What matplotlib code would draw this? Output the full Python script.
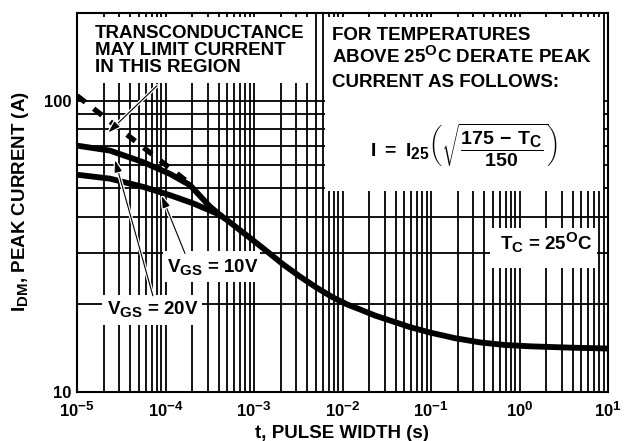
import matplotlib
matplotlib.use("Agg")
import matplotlib.pyplot as plt
import matplotlib.patheffects as pe
import matplotlib._mathtext as _mt
import numpy as np
from matplotlib.patches import Rectangle
from matplotlib.ticker import FixedLocator, FuncFormatter, LogLocator, NullFormatter

plt.rcParams.update({
    "font.family": "Liberation Sans",
    "font.weight": "bold",
    "mathtext.fontset": "custom",
    "mathtext.rm": "Liberation Sans:bold",
    "mathtext.it": "Liberation Sans:bold",
    "mathtext.bf": "Liberation Sans:bold",
    "mathtext.sf": "Liberation Sans:bold",
    "mathtext.default": "rm",
})
# datasheet sub/superscripts are drawn larger than mathtext's default 0.7
if hasattr(_mt, "SHRINK_FACTOR"):
    _mt.SHRINK_FACTOR = 0.8

# ---------------------------------------------------------------------------
# Values
# ---------------------------------------------------------------------------
T_20V = [1e-5, 2.36e-5, 5.6e-5, 1.12e-4, 1.89e-4, 3.18e-4, 4.36e-4]
I_20V = [70.1, 67.4, 61.5, 56.1, 51.3, 43.3, 40.0]

T_10V = [1e-5, 2.36e-5, 5.6e-5, 1.12e-4, 2.06e-4, 3.8e-4, 4.36e-4]
I_10V = [55.7, 54.0, 50.6, 47.4, 44.4, 41.0, 40.0]

T_MAIN = [4.36e-4, 4.91e-4, 9.01e-4, 1.44e-3, 2.14e-3, 3.31e-3, 5.11e-3, 7.61e-3,
          1.12e-2, 1.58e-2, 2.33e-2, 3.44e-2, 5.79e-2, 9.74e-2, 0.187, 0.358,
          0.686, 1.31, 3.72, 10]
I_MAIN = [40.0, 39.0, 33.8, 30.2, 27.4, 24.9, 22.8, 21.2,
          20.0, 19.2, 18.3, 17.6, 16.7, 16.0, 15.3, 14.8,
          14.5, 14.35, 14.2, 14.1]

# transconductance limit (dashed)
T_GFS = [1e-5, 1.98e-4]
I_GFS = [104, 51.3]

X_TICKS = [1e-5, 1e-4, 1e-3, 1e-2, 1e-1, 1e0, 1e1]
Y_TICKS = [10, 100]

# arrows: (tail, tip) in data units
ARROW_GFS = ((8.0e-5, 112.5), (2.26e-5, 77.8))
ARROW_20V = ((7.2e-5, 21.4), (2.69e-5, 62.4))
ARROW_10V = ((1.66e-4, 29.9), (9.06e-5, 47.1))

W, H = 639, 441
AX_L, AX_R, AX_T, AX_B = 77, 608, 13, 392

fig = plt.figure(figsize=(W / 100, H / 100), dpi=100, facecolor="white")
ax = fig.add_axes([AX_L / W, 1 - AX_B / H, (AX_R - AX_L) / W, (AX_B - AX_T) / H])


def P(x, y):
    # canvas pixel -> axes fraction
    return (x - AX_L) / (AX_R - AX_L), (AX_B - y) / (AX_B - AX_T)


def mask(x0, y0, x1, y1):
    ax0, ay1 = P(x0, y0)
    ax1, ay0 = P(x1, y1)
    ax.add_patch(Rectangle((ax0, ay0), ax1 - ax0, ay1 - ay0, transform=ax.transAxes,
                           facecolor="white", edgecolor="none", zorder=2))


ax.set_xscale("log")
ax.set_yscale("log")
ax.set_xlim(1e-5, 10)
ax.set_ylim(10, 200)

ax.xaxis.set_major_locator(FixedLocator(X_TICKS))
ax.xaxis.set_minor_locator(LogLocator(base=10, subs=np.arange(2, 10)))
ax.xaxis.set_major_formatter(FuncFormatter(lambda v, _: r"$10^{%d}$" % round(np.log10(v))))
ax.xaxis.set_minor_formatter(NullFormatter())
ax.yaxis.set_major_locator(FixedLocator(Y_TICKS))
ax.yaxis.set_minor_locator(LogLocator(base=10, subs=np.arange(2, 10)))
ax.yaxis.set_major_formatter(FuncFormatter(lambda v, _: "%d" % v))
ax.yaxis.set_minor_formatter(NullFormatter())

ax.set_axisbelow(True)
ax.grid(True, which="both", color="black", linewidth=1.3)
ax.tick_params(which="both", length=0)
ax.tick_params(axis="x", pad=6, labelsize=12)
ax.tick_params(axis="y", pad=4, labelsize=12)
for s in ax.spines.values():
    s.set_linewidth(1.5)

# curves
ax.plot(T_20V, I_20V, color="black", lw=4.2, solid_capstyle="butt", zorder=3)
ax.plot(T_10V, I_10V, color="black", lw=4.2, solid_capstyle="butt", zorder=3)
ax.plot(T_MAIN, I_MAIN, color="black", lw=4.2, solid_joinstyle="round", zorder=3)
ax.plot(T_GFS, I_GFS, color="black", lw=3.8, linestyle=(0, (2.0, 2.0)),
        dash_capstyle="butt", zorder=3)

# white label boxes that hide the grid
mask(AX_L, 17, 312, 83)
mask(324.5, 17, 603, 191)
mask(163, 251, 260, 282)
mask(102, 295, 202, 325)
mask(490, 228, 597, 268)

FS = 13.5
for i, line in enumerate(["TRANSCONDUCTANCE", "MAY LIMIT CURRENT", "IN THIS REGION"]):
    ax.text(*P(95, 37.7 + 17 * i), line, transform=ax.transAxes, fontsize=FS,
            va="baseline", ha="left", zorder=4)

for i, line in enumerate(["FOR TEMPERATURES", r"ABOVE 25$^{O}$C DERATE PEAK",
                          "CURRENT AS FOLLOWS:"]):
    ax.text(*P(332, 40 + 23.3 * i), line, transform=ax.transAxes, fontsize=FS,
            va="baseline", ha="left", zorder=4)

ax.text(*P(464, 145), r"$I\ =\ I_{25}\left(\sqrt{\dfrac{175\,-\,T_C}{150}}\right)$",
        transform=ax.transAxes, fontsize=14, ha="center", va="center", zorder=4)

ax.text(*P(167, 271.7), r"$V_{GS}$ = 10V", transform=ax.transAxes, fontsize=FS,
        va="baseline", zorder=4)
ax.text(*P(107, 314), r"$V_{GS}$ = 20V", transform=ax.transAxes, fontsize=FS,
        va="baseline", zorder=4)
ax.text(*P(500, 250), r"$T_C$ = 25$^{O}$C", transform=ax.transAxes, fontsize=FS,
        va="baseline", zorder=4)

halo = [pe.withStroke(linewidth=2.6, foreground="white")]
for tail, tip in (ARROW_GFS, ARROW_20V, ARROW_10V):
    ann = ax.annotate("", xy=tip, xytext=tail, zorder=4,
                      arrowprops=dict(arrowstyle="-|>,head_length=0.7,head_width=0.22",
                                      color="black", lw=0.8, shrinkA=0, shrinkB=0))
    ann.arrow_patch.set_path_effects(halo)

fig.text(21 / W, 1 - 201.5 / H, r"$I_{DM}$, PEAK CURRENT (A)", rotation=90,
         ha="center", va="center", fontsize=13.5)
fig.text(342 / W, 1 - 438 / H, "t, PULSE WIDTH (s)", ha="center", va="baseline",
         fontsize=13.5)

fig.savefig("out.png", dpi=100, facecolor="white")
